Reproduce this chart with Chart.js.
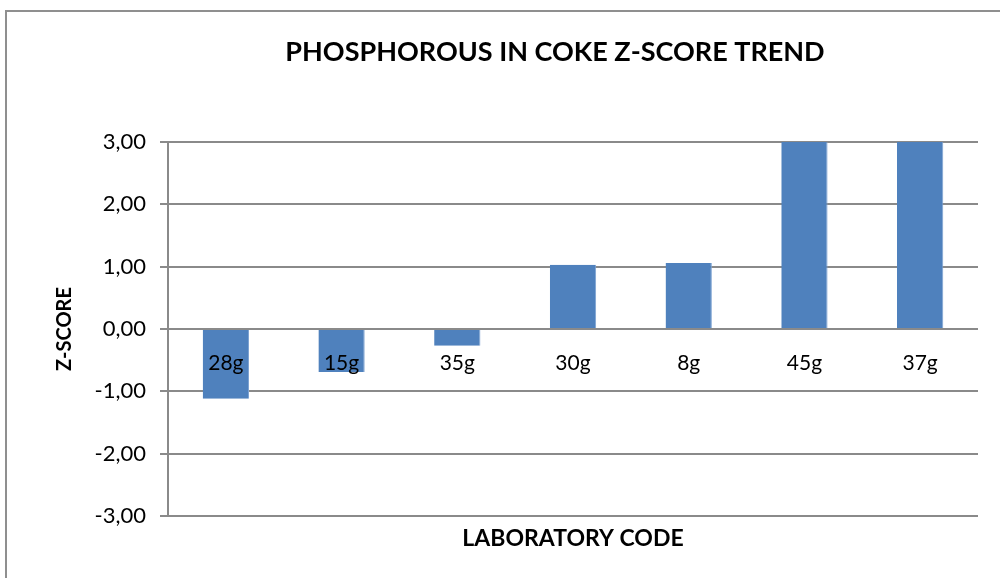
<!DOCTYPE html>
<html>
<head>
<meta charset="utf-8">
<script src="https://cdn.jsdelivr.net/npm/chart.js@4"></script>
<style>
  html, body { margin: 0; padding: 0; background: #fff; }
  #wrap { position: relative; width: 1000px; height: 578px; overflow: hidden; }
  #frame { position: absolute; left: 5px; top: 10px; width: 1020px; height: 600px;
           border: 2px solid #8f8f8f; pointer-events: none; box-sizing: border-box; }
  canvas { position: absolute; left: 0; top: 0; }
</style>
</head>
<body>
<div id="wrap">
  <div id="frame"></div>
  <canvas id="chart" width="1000" height="578"></canvas>
</div>
<script>
// z-score per laboratory
const LABS = ['28g', '15g', '35g', '30g', '8g', '45g', '37g'];
const ZSCORES = [-1.12, -0.69, -0.27, 1.03, 1.06, 3.00, 3.00];
const Y_MIN = -3, Y_MAX = 3, Y_STEP = 1;
const TITLE = 'PHOSPHOROUS IN COKE Z-SCORE TREND';

const FONT = 'Lato, "Open Sans", sans-serif';
const GRID = '#8a8a8a';

const fmt = v => v.toFixed(2).replace('.', ',');

// excel puts the title off-centre, so draw it by hand
const titlePlugin = {
  id: 'offTitle',
  afterDraw(chart) {
    const ctx = chart.ctx;
    ctx.save();
    ctx.font = `bold 27px ${FONT}`;
    ctx.fillStyle = '#000';
    ctx.textAlign = 'center';
    ctx.textBaseline = 'middle';
    ctx.fillText(TITLE, 555, 52);
    ctx.restore();
  }
};

new Chart(document.getElementById('chart').getContext('2d'), {
  type: 'bar',
  data: {
    labels: LABS,
    datasets: [{
      label: 'Z-SCORE',
      data: ZSCORES,
      backgroundColor: '#4f81bd',
      borderColor: '#7ea3d2',
      borderWidth: { right: 1 },
      borderSkipped: false,
      categoryPercentage: 1,
      barPercentage: 0.4,
      xAxisID: 'x',
    }]
  },
  plugins: [titlePlugin],
  options: {
    responsive: false,
    animation: false,
    devicePixelRatio: 1,
    layout: { padding: { left: 0, right: 22, top: 142, bottom: 0 } },
    plugins: {
      legend: { display: false },
      tooltip: { enabled: false },
      title: { display: false },
    },
    scales: {
      x: {
        type: 'category',
        position: { y: 0 },
        grid: { display: false },
        border: { display: false },
        ticks: { z: 1, color: '#000', font: { family: FONT, size: 21 }, padding: 14, maxRotation: 0 },
      },
      x2: {
        type: 'category',
        labels: LABS,
        position: 'bottom',
        grid: { display: false, drawTicks: false },
        border: { display: false },
        ticks: { display: false },
        title: {
          display: true,
          text: 'LABORATORY CODE',
          color: '#000',
          font: { family: FONT, size: 23, weight: 'bold', lineHeight: 1.2 },
          padding: { top: 0, bottom: 26 },
        },
        afterFit: s => { s.height = 62; },
      },
      y: {
        min: Y_MIN,
        max: Y_MAX,
        grid: { color: GRID, lineWidth: 2, tickLength: 8, drawTicks: true, tickColor: GRID },
        border: { display: true, color: GRID, width: 2 },
        ticks: {
          stepSize: Y_STEP,
          color: '#000',
          padding: 14,
          font: { family: FONT, size: 22 },
          callback: v => fmt(v),
        },
        title: {
          display: true,
          text: 'Z-SCORE',
          color: '#000',
          font: { family: FONT, size: 20, weight: 'bold', lineHeight: 1.2 },
          padding: { top: 53, bottom: 0 },
        },
        afterFit: s => { s.width = 168; },
      },
    },
  },
});
</script>
</body>
</html>
